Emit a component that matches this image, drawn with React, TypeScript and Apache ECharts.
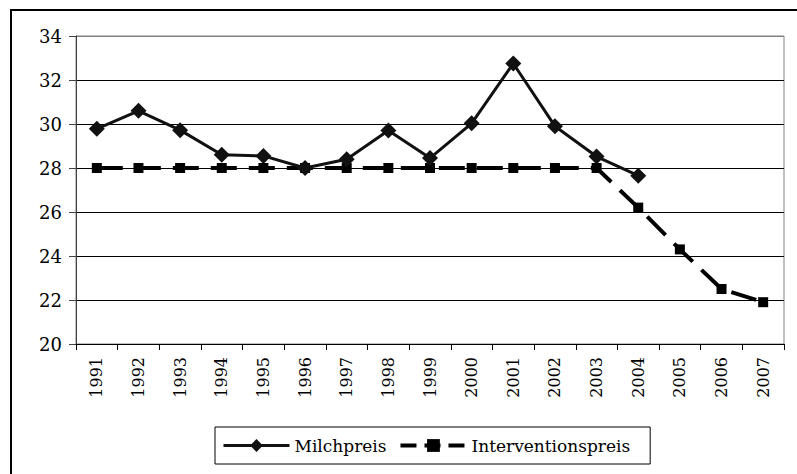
import React, { useEffect, useRef } from "react";
import * as echarts from "echarts";

const years = ["1991","1992","1993","1994","1995","1996","1997","1998","1999","2000","2001","2002","2003","2004","2005","2006","2007"];
const milchpreis = [29.78, 30.6, 29.72, 28.6, 28.55, 28.0, 28.4, 29.7, 28.45, 30.03, 32.75, 29.9, 28.52, 27.65, null, null, null];
const interventionspreis = [28, 28, 28, 28, 28, 28, 28, 28, 28, 28, 28, 28, 28, 26.2, 24.3, 22.5, 21.9];
const yMin = 20;
const yMax = 34;
const yStep = 2;

const FONT = "DejaVu Serif";

export default function App() {
  const ref = useRef<HTMLDivElement>(null);
  useEffect(() => {
    if (!ref.current) return;
    const chart = echarts.init(ref.current, null, { renderer: "svg" });
    chart.setOption({
      animation: false,
      backgroundColor: "#fff",
      textStyle: { fontFamily: FONT },
      graphic: [
        {
          type: "rect",
          shape: { x: 11, y: 10, width: 800, height: 480 },
          style: { fill: "none", stroke: "#000", lineWidth: 2 },
          z: -1,
        },
      ],
      grid: {
        left: 76,
        top: 36,
        right: 13,
        bottom: 130,
        show: true,
        borderColor: "#808080",
        borderWidth: 1,
      },
      legend: {
        left: 215,
        top: 427,
        itemWidth: 66,
        itemHeight: 16,
        itemGap: 12,
        padding: [10, 20, 10, 7],
        borderColor: "#000",
        borderWidth: 1,
        textStyle: { fontFamily: FONT, fontSize: 17, color: "#000" },
        data: [
          { name: "Milchpreis", lineStyle: { width: 3, color: "#111" } },
          { name: "Interventionspreis", lineStyle: { width: 4, color: "#000", type: [16, 8] } },
        ],
      },
      xAxis: {
        type: "category",
        data: years,
        boundaryGap: true,
        axisLine: { lineStyle: { color: "#000", width: 1 } },
        axisTick: { show: true, length: 6, lineStyle: { color: "#000" } },
        axisLabel: {
          rotate: 90,
          fontFamily: FONT,
          fontSize: 16,
          color: "#000",
          margin: 13,
        },
      },
      yAxis: {
        type: "value",
        min: yMin,
        max: yMax,
        interval: yStep,
        axisLine: { show: true, lineStyle: { color: "#404040", width: 1 } },
        axisTick: { show: true, length: 7, lineStyle: { color: "#404040" } },
        axisLabel: { fontFamily: FONT, fontSize: 18, color: "#000", margin: 14 },
        splitLine: {
          show: true,
          lineStyle: {
            color: ["#000", "#000", "#000", "#000", "#000", "#000", "#000", "#808080"],
            width: 1,
          },
        },
      },
      series: [
        {
          name: "Milchpreis",
          type: "line",
          data: milchpreis,
          symbol: "diamond",
          symbolSize: 16,
          showAllSymbol: true,
          itemStyle: { color: "#111" },
          lineStyle: { color: "#111", width: 3 },
          z: 3,
        },
        {
          name: "Interventionspreis",
          type: "line",
          data: interventionspreis,
          symbol: "rect",
          symbolSize: 10,
          showAllSymbol: true,
          itemStyle: { color: "#000" },
          lineStyle: { color: "#000", width: 4, type: [26, 12] },
          z: 2,
        },
      ],
    });
    return () => chart.dispose();
  }, []);
  return (
    <div
      ref={ref}
      style={{ position: "fixed", left: 0, top: 0, width: 797, height: 474 }}
    />
  );
}
